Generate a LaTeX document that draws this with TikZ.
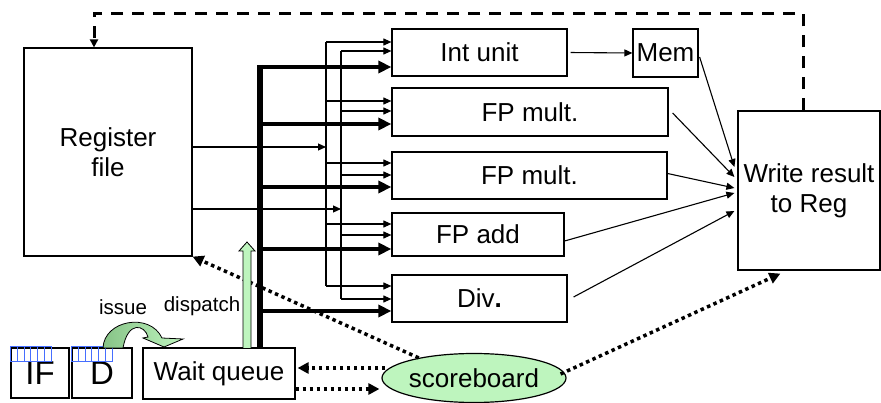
\documentclass[tikz,border=0pt]{standalone}
\usepackage{fontspec}
\setmainfont{Liberation Sans}
\usetikzlibrary{arrows.meta,shapes.geometric,calc}
\definecolor{lgreen}{RGB}{190,245,190}
\definecolor{dgreen}{RGB}{135,195,135}
\definecolor{cellblue}{RGB}{70,110,255}
\begin{document}
\begin{tikzpicture}[x=1pt,y=-1pt,
  box/.style={draw,line width=1.2pt,inner sep=0pt,align=center,
    font=\fontsize{26}{30}\selectfont},
  big/.style={box,font=\fontsize{33}{36}\selectfont},
  lbl/.style={inner sep=0pt,anchor=base,font=\fontsize{20.5}{24}\selectfont},
  tarrow/.style={line width=1.1pt,-{Triangle[length=8pt,width=7pt]}},
  tline/.style={line width=1.1pt},
  karrow/.style={line width=4pt,-{Triangle[length=13pt,width=12pt]}},
  kbus/.style={line width=5.3pt},
  dotarrow/.style={line width=3.5pt,dash pattern=on 3.5pt off 3.5pt,
    -{Triangle[length=11pt,width=11pt]}},
  dasharrow/.style={line width=3pt,dash pattern=on 12pt off 9pt,
    -{Triangle[length=8pt,width=8pt]}}]
\useasboundingbox (0,0) rectangle (881,403);

% boxes
\node[box,minimum width=168pt,minimum height=208pt] (regfile) at (108,152) {Register\\file};
\node[box,minimum width=175pt,minimum height=47pt] (int) at (479.5,52.5) {Int unit};
\node[box,minimum width=65pt,minimum height=48pt] (mem) at (665.5,53) {Mem};
\node[box,minimum width=276pt,minimum height=48pt] (fpm1) at (530,112) {FP mult.};
\node[box,minimum width=275pt,minimum height=47pt] (fpm2) at (529.5,175.5) {FP mult.};
\node[box,minimum width=172pt,minimum height=43pt] (fpadd) at (478,234.5) {FP add};
\node[box,minimum width=175pt,minimum height=47pt] (div) at (479.5,298.5) {Div\textbf{.}};
\node[box,minimum width=142pt,minimum height=159pt] (wr) at (809,190.5) {Write result\\to Reg};
\node[box,minimum width=152pt,minimum height=51pt] (wq) at (219,373.5) {Wait queue};
\node[big,minimum width=58pt,minimum height=50pt] (IF) at (40,373) {IF};
\node[big,minimum width=60pt,minimum height=50pt] (D) at (102,373) {D};
\node[draw,ellipse,line width=1.2pt,fill=lgreen,minimum width=184pt,minimum height=49pt,
  inner sep=0pt,font=\fontsize{26}{30}\selectfont] (sb) at (474,378) {scoreboard};

% blue cells
\foreach \i in {0,...,5} {
  \draw[cellblue,line width=0.8pt] ($(IF.north west)+(\i*6.83,-1)$) rectangle ++(6.83,15);
  \draw[cellblue,line width=0.8pt] ($(D.north west)+(\i*6.83,-1)$) rectangle ++(6.83,15);
}

% thin buses
\coordinate (busA) at (326,42);
\coordinate (busAe) at (326,286);
\coordinate (busB) at (341,51);
\coordinate (busBe) at (341,299);
\draw[tline] (busA) -- (busAe);
\draw[tline] (busB) -- (busBe);
\draw[tarrow] (regfile.east |- 0,147) -- (busA |- 0,147);
\draw[tarrow] (regfile.east |- 0,209) -- (busB |- 0,209);
\foreach \y/\n in {42/int,101/fpm1,163/fpm2,224/fpadd,286/div}
  \draw[tarrow] (busA |- 0,\y) -- (\n.west |- 0,\y);
\foreach \y/\n in {51/int,111/fpm1,175/fpm2,235/fpadd,299/div}
  \draw[tarrow] (busB |- 0,\y) -- (\n.west |- 0,\y);

% thick bus
\coordinate (kb) at (260,67);
\draw[kbus] ($(kb)+(0,-2)$) -- (kb |- wq.north);
\foreach \y/\n in {67/int,124/fpm1,187/fpm2,249/fpadd,311/div}
  \draw[karrow] (kb |- 0,\y) -- (\n.west |- 0,\y);

% to write result
\draw[tarrow,shorten <=3pt] (int.east) -- (mem.west);
\draw[tarrow] ($(mem.east)+(1,4)$) -- ($(wr.west)+(-3,-23.5)$);
\draw[tarrow] ($(fpm1.east)+(4,1)$) -- ($(wr.west)+(-3,-13.5)$);
\draw[tarrow] ($(fpm2.east)+(0,-2)$) -- ($(wr.west)+(-3,-2.5)$);
\draw[tarrow] ($(fpadd.east)+(0,6.5)$) -- ($(wr.west)+(-3,2.5)$);
\draw[tarrow] ($(div.east)+(6,-1.5)$) -- ($(wr.west)+(-3,20.5)$);

% dashed feedback
\coordinate (wrtap) at ($(wr.north)+(-6,0)$);
\coordinate (rftap) at ($(regfile.north)+(-14,0)$);
\draw[dasharrow] (wrtap) -- ++(0,-97) -| (rftap);

% dotted scoreboard links
\draw[dotarrow] (sb.160) -- (regfile.south east);
\draw[dotarrow] ($(sb.west)+(4,-10)$) -- ($(wq.east)+(2,-5.5)$);
\draw[dotarrow] ($(wq.east)+(0,15.5)$) -- ($(sb.west)+(-2,11)$);
\draw[dotarrow] ($(sb.east)+(-6,-4)$) -- ($(wr.south west)!0.3!(wr.south east)+(0,3)$);

% dispatch arrow
\draw[fill=lgreen,line width=0.8pt] (243,348) -- (243,251) -- (239,251) -- (247,242)
  -- (255,251) -- (251,251) -- (251,348);

% issue arrow
\shade[left color=dgreen,right color=lgreen,draw=black,line width=0.8pt]
  (103,348) .. controls (104,320) and (150,312) .. (162,338) -- (183,339) -- (164,347)
  -- (143,338) -- (148,337) .. controls (145,325) and (128,320) .. (123,348) -- cycle;

% labels
\node[lbl] (issue) at (123,315) {issue};
\node[lbl] (dispatch) at (202,312) {dispatch};
\end{tikzpicture}
\end{document}
